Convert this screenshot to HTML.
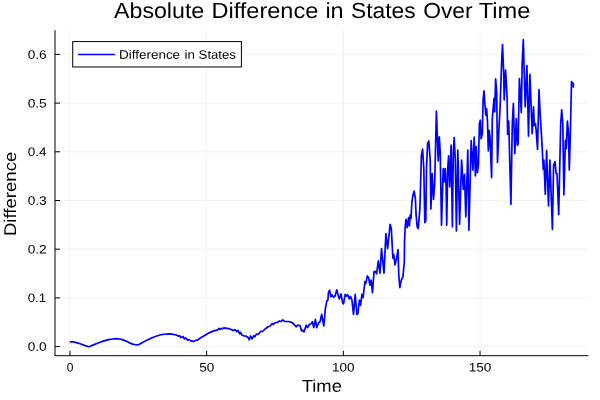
<!DOCTYPE html>
<html><head><meta charset="utf-8"><title>Absolute Difference in States Over Time</title>
<style>
html,body{margin:0;padding:0;background:#fff;}
body{width:600px;height:400px;overflow:hidden;font-family:"Liberation Sans",sans-serif;}
svg{display:block;}
text{font-family:"Liberation Sans",sans-serif;fill:#000;filter:grayscale(1);text-rendering:geometricPrecision;}
</style></head><body>
<svg width="600" height="400" viewBox="0 0 600 400">
<rect x="0" y="0" width="600" height="400" fill="#ffffff"/>
<g stroke="#000" stroke-opacity="0.1" stroke-width="0.5" fill="none">
<path d="M69.95 30.4V355.4M206.65 30.4V355.4M343.35 30.4V355.4M480.05 30.4V355.4"/>
<path d="M55 346.6H588.4M55 297.9H588.4M55 249.2H588.4M55 200.5H588.4M55 151.8H588.4M55 103.1H588.4M55 54.4H588.4"/>
</g>
<g stroke="#000" stroke-width="1" fill="none">
<path d="M54.5 355.7H588.4M55 30.2V355.7"/>
<path d="M69.95 355.7V350.8M206.65 355.7V350.8M343.35 355.7V350.8M480.05 355.7V350.8"/>
<path d="M55 346.6H60M55 297.9H60M55 249.2H60M55 200.5H60M55 151.8H60M55 103.1H60M55 54.4H60"/>
</g>
<polyline fill="none" stroke="#0000ff" stroke-width="1.7" stroke-linejoin="round" stroke-linecap="butt" points="69.8,341.85 73.25,341.95 76.25,342.6 80,343.75 84.5,345.4 87.6,346.4 88.85,346.7 90.1,346.3 93.5,344.9 98,343 104,340.9 108.75,339.6 112.5,339 116.25,338.7 120,339 123,339.85 126,341.1 129,342.6 132.75,344.1 135.75,344.75 137.6,344.95 139.5,344.2 142.5,342.4 146.25,340.4 150,338.65 153.5,337.2 156.7,336 160,335 163,334.4 165,334.25 169.5,333.9 173.25,334.4 176.25,335 178.1,336.1 179.6,335.75 181.1,337.6 182.85,336.5 184.35,338.75 185.6,337.85 187.5,340.1 189,339.65 190.9,340.85 193.5,341.4 195.75,340.25 197.25,340.25 200.25,338 205.5,334.9 209.5,332.6 214,330.9 217.75,329.85 218.9,328.5 220,329.4 221.1,328.35 222.6,328.9 224.1,327.6 225.25,328.65 226.4,327.9 227.5,328.65 229.4,328.7 231.25,329.6 233.5,330.6 235,329.6 236.4,331.1 236.9,331.65 238,330.4 239.1,332.6 239.7,333.75 240.6,332.4 241.75,334.9 243.6,335.85 245.9,336 247,336.75 248.1,337.5 249.3,339.75 250.7,336 252.1,338.9 253.7,335.7 254.7,336.9 256.4,334 258.1,334.5 260.9,331.3 262.6,331.5 265.1,329 268.5,326.5 270.2,326 272.2,323.5 273.2,324.5 275.2,322.6 276.9,322.6 279.4,321 281,321.5 282.7,319.8 284.4,321.3 288.6,321.5 292.3,322.6 294.4,324.8 296.1,326.8 297.8,325.2 300,325.5 301.6,331 302.8,330.2 304,331.9 306.2,325.2 307.5,327.7 309.5,324.3 311.2,323.8 312.5,321.8 313.7,327.7 315.4,319.3 316.7,327.7 318.7,322.6 320.1,321.8 321.7,314.3 323.8,326 325.4,308.4 326.8,300.9 327.9,300 328.4,292.7 329.6,290.2 330.9,296.9 332.1,294.9 333.4,297.2 335.1,296 336.8,289.8 338.5,296.5 339.3,298.9 341,293.9 342.6,302.7 343.5,303.9 345.2,294.4 346.5,296 347.7,294.9 349.3,298.9 350.5,296.5 351.9,299.9 353.5,314.5 355.2,294.4 356.9,314.5 357.9,313.6 359.4,300.2 360.6,305.3 361.9,294.4 363.1,297.7 364.9,281.5 365.8,283.5 367.3,275.9 368.6,277.6 369.9,285.2 371.1,280.1 372.5,292.7 374,271.8 375.3,271.4 376.6,273.8 378.3,260.9 380,273.2 381.5,248.6 384.0,273.2 385.9,233.5 387.6,248.6 390.1,224.3 391.3,228.5 392.9,258.2 393.8,254.6 394.3,258.6 395,265 396.8,257.4 398,249.6 398.8,275.1 399.8,287.7 401.3,280.1 402.9,276.8 404.3,261.7 404.5,241.9 405.2,226.8 406,219.3 407.2,227.7 408.5,217.6 409.4,226 410.2,215.1 411,218.5 411.9,201.7 413.1,194.5 414.2,191.1 415.4,198.7 416.1,215.1 417.2,226.8 418.2,228.5 419.9,208.4 421.4,155.1 422.6,149.2 423.8,168.5 424.8,222.6 425.8,221 426.5,168.5 427.6,143.4 428.8,140.9 430.2,160.1 430.9,209 432.2,173.5 433.5,199.5 434.7,183.6 436.4,111 438.2,161 439.3,136.8 440.2,151.8 441.5,225.2 443.2,168.5 444.1,181.9 445.2,168.5 446.1,185.3 446.7,225.2 447.7,168.5 448.6,155.9 449.7,186.9 451.1,145.1 452.4,226.8 453.3,151.8 454.2,137.6 455.3,160.1 456.4,231 457.8,150.1 459.6,224.3 461.6,160.1 463.3,189.4 464.5,174.4 465.8,216.8 467.8,150.1 468.9,230.2 471.2,140.6 472.9,170.2 474.2,137.2 475.4,176 476.2,146.7 477.4,172.7 478.4,165.2 479.4,123.6 480.3,120.2 481.1,138.7 482.3,133.6 483.1,100.1 484,90.9 485,105.2 485.8,115.2 486.6,108.5 487.5,121.9 488.3,150.9 489.2,130.3 490,137 491.6,177.7 492.3,118.6 493.3,106.8 494,98.5 494.7,111.9 495.6,78.9 496.7,91.8 497.5,162.4 499.2,123.5 500,110 501.6,63.5 502.5,44.6 503.65,71.9 504.2,100 505.6,70.2 507.1,97 507.6,134.4 508.7,121 510.9,204.4 512.3,123.5 513.4,103.4 514.8,153.6 516.3,118.5 517.3,145.3 518.1,144.4 519.4,78.5 520.5,97 521.3,112.6 522.2,63.5 523.3,39.6 525.2,106.8 526.9,65.5 528.5,136.1 529.9,74.4 532.2,133.6 533.5,106.8 534.3,125.6 535.4,123.6 536.1,129.6 537.5,149.5 539,89.5 540.2,115.1 541.9,141.9 543.2,169.3 543.9,160 545.3,194.3 546.6,150.3 548.5,206 549.9,160 552.4,229.4 553.6,165.1 555,161.7 556.1,173.5 557,173.5 558.7,214.6 560.7,123.5 561.7,109.8 562.8,123.5 563.9,195 565.4,140.3 566.2,148.6 567.4,121 568.4,131.9 569.3,170.1 570.4,131.9 571.5,81.6 572.5,83.3 573.3,83.3 573.3,87.8"/>
<rect x="72.7" y="41.6" width="168.7" height="25.35" fill="#fff" stroke="#000" stroke-width="1"/>
<path d="M78 54.5H114.9" stroke="#0000ff" stroke-width="1.5" fill="none"/>
<text transform="translate(114.05,18.00) rotate(0.03)" font-size="21.90" textLength="90.18" lengthAdjust="spacingAndGlyphs">Absolute</text>
<text transform="translate(211.45,18.00) rotate(0.03)" font-size="21.90" textLength="106.77" lengthAdjust="spacingAndGlyphs">Difference</text>
<text transform="translate(325.40,18.00) rotate(0.03)" font-size="21.90" textLength="18.24" lengthAdjust="spacingAndGlyphs">in</text>
<text transform="translate(351.05,18.00) rotate(0.03)" font-size="21.90" textLength="64.64" lengthAdjust="spacingAndGlyphs">States</text>
<text transform="translate(423.20,18.00) rotate(0.03)" font-size="21.90" textLength="49.41" lengthAdjust="spacingAndGlyphs">Over</text>
<text transform="translate(478.70,18.00) rotate(0.03)" font-size="21.90" textLength="51.74" lengthAdjust="spacingAndGlyphs">Time</text>
<text transform="translate(119.00,58.75) rotate(0.03)" font-size="12.20" textLength="61.11" lengthAdjust="spacingAndGlyphs">Difference</text>
<text transform="translate(184.40,58.75) rotate(0.03)" font-size="12.20" textLength="10.44" lengthAdjust="spacingAndGlyphs">in</text>
<text transform="translate(198.60,58.75) rotate(0.03)" font-size="12.20" textLength="37.34" lengthAdjust="spacingAndGlyphs">States</text>
<text transform="translate(66.80,371.60) rotate(0.03)" font-size="12.30" textLength="6.68" lengthAdjust="spacingAndGlyphs">0</text>
<text transform="translate(199.35,371.60) rotate(0.03)" font-size="12.30" textLength="15.01" lengthAdjust="spacingAndGlyphs">50</text>
<text transform="translate(332.05,371.60) rotate(0.03)" font-size="12.30" textLength="22.44" lengthAdjust="spacingAndGlyphs">100</text>
<text transform="translate(468.70,371.60) rotate(0.03)" font-size="12.30" textLength="22.72" lengthAdjust="spacingAndGlyphs">150</text>
<text transform="translate(27.65,350.75) rotate(0.03)" font-size="12.20" textLength="19.04" lengthAdjust="spacingAndGlyphs">0.0</text>
<text transform="translate(27.65,302.08) rotate(0.03)" font-size="12.20" textLength="18.58" lengthAdjust="spacingAndGlyphs">0.1</text>
<text transform="translate(27.65,253.42) rotate(0.03)" font-size="12.20" textLength="19.05" lengthAdjust="spacingAndGlyphs">0.2</text>
<text transform="translate(27.65,204.75) rotate(0.03)" font-size="12.20" textLength="19.04" lengthAdjust="spacingAndGlyphs">0.3</text>
<text transform="translate(27.65,156.08) rotate(0.03)" font-size="12.20" textLength="18.78" lengthAdjust="spacingAndGlyphs">0.4</text>
<text transform="translate(27.65,107.41) rotate(0.03)" font-size="12.20" textLength="19.04" lengthAdjust="spacingAndGlyphs">0.5</text>
<text transform="translate(27.65,58.75) rotate(0.03)" font-size="12.20" textLength="19.04" lengthAdjust="spacingAndGlyphs">0.6</text>
<text transform="translate(301.70,391.80) rotate(0.03)" font-size="17.00" textLength="40.25" lengthAdjust="spacingAndGlyphs">Time</text>
<text transform="translate(16.05,236.10) rotate(-90)" font-size="17.00" textLength="84.41" lengthAdjust="spacingAndGlyphs">Difference</text>
</svg>
</body></html>
